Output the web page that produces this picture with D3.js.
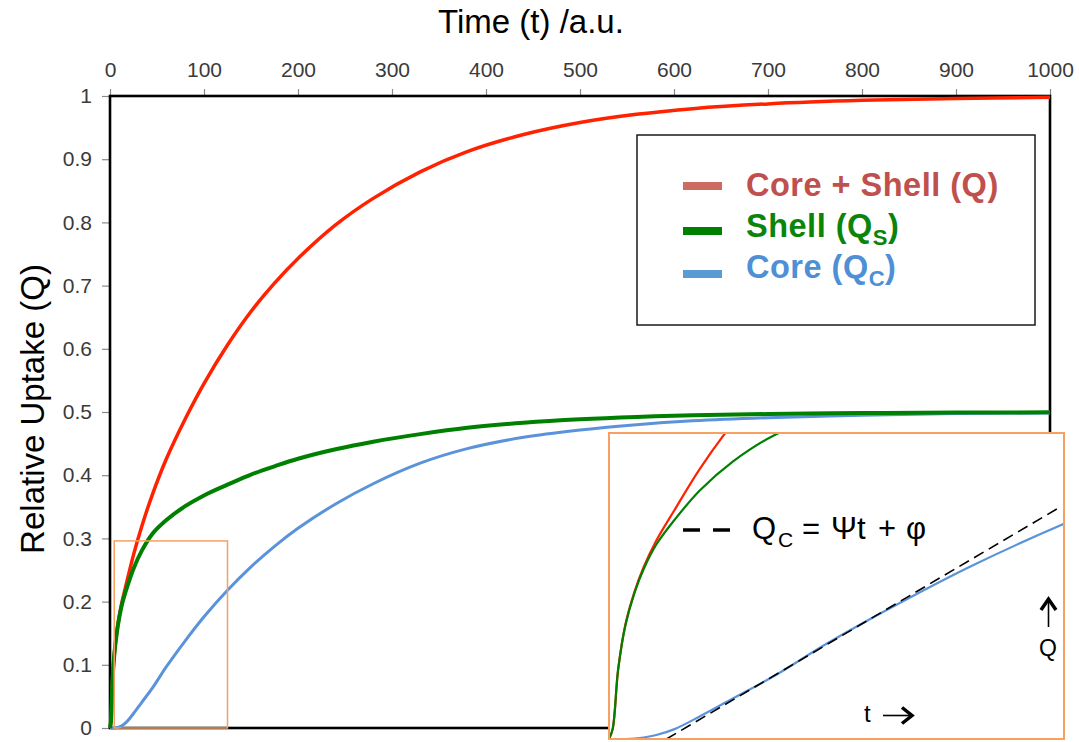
<!DOCTYPE html>
<html>
<head>
<meta charset="utf-8">
<script src="https://cdn.jsdelivr.net/npm/d3@7"></script>
<style>
  body { margin: 0; background: #fff; }
  svg { display: block; }
  text { font-family: "Liberation Sans", Arial, Helvetica, sans-serif; }
</style>
</head>
<body>
<svg id="chart" width="1079" height="742"></svg>
<script>
// ---- data -------------------------------------------------------------
const timePoints  = [0, 1, 2.5, 4.5, 7, 9.5, 13, 18, 25, 34, 45, 60, 80, 100, 125, 150, 175, 200, 240, 280, 330, 380, 440, 500, 560, 620, 700, 800, 900, 1000];
const totalUptake = [0, 0.01, 0.07, 0.116, 0.149, 0.174, 0.201, 0.232, 0.274, 0.32, 0.369, 0.426, 0.489, 0.545, 0.606, 0.659, 0.704, 0.743, 0.796, 0.838, 0.88, 0.912, 0.939, 0.958, 0.971, 0.98, 0.9875, 0.9931, 0.9962, 0.9979];
const shellUptake = [0, 0.01, 0.07, 0.115, 0.148, 0.172, 0.197, 0.222, 0.252, 0.281, 0.307, 0.329, 0.351, 0.368, 0.385, 0.401, 0.414, 0.426, 0.441, 0.453, 0.465, 0.475, 0.483, 0.4885, 0.4922, 0.4947, 0.4968, 0.4983, 0.4991, 0.4995];
const coreUptake  = [0, 0, 0, 0, 0.0005, 0.0015, 0.004, 0.01, 0.023, 0.041, 0.063, 0.097, 0.138, 0.176, 0.218, 0.255, 0.2875, 0.316, 0.3545, 0.3865, 0.419, 0.442, 0.46, 0.4715, 0.48, 0.486, 0.491, 0.495, 0.4975, 0.4985];

const xTickValues = [0, 100, 200, 300, 400, 500, 600, 700, 800, 900, 1000];
const xTickLabels = ["0", "100", "200", "300", "400", "500", "600", "700", "800", "900", "1000"];
const yTickValues = [0, 0.1, 0.2, 0.3, 0.4, 0.5, 0.6, 0.7, 0.8, 0.9, 1];
const yTickLabels = ["0", "0.1", "0.2", "0.3", "0.4", "0.5", "0.6", "0.7", "0.8", "0.9", "1"];

// magnified early-time window (marked on the main plot, enlarged in the inset)
const markerTime   = [4.5, 125];
const markerUptake = [0, 0.296];
const zoomTime     = [0, 125];
const zoomUptake   = [0, 0.31];

// linear fit to the core uptake: Q_C = Ψt + φ
const tangentTime   = [15.8, 124.4];
const tangentUptake = [0, 0.236];

const seriesNames  = ["total", "core", "shell"];
const seriesValues = { total: totalUptake, core: coreUptake, shell: shellUptake };

// ---- styles -----------------------------------------------------------
const lineColor = { total: "#ff2200", core: "#5b93da", shell: "#008000" };
const lineWidth = { total: 3.5, core: 3, shell: 4 };
const orange = "#f7a062";

const svg = d3.select("#chart");

// ---- scales -----------------------------------------------------------
const plot = { left: 110, right: 1050, top: 96, bottom: 728 };
const x = d3.scaleLinear().domain([0, 1000]).range([plot.left, plot.right]);
const y = d3.scaleLinear().domain([0, 1]).range([plot.bottom, plot.top]);

const inset = { left: 609, right: 1064, top: 433, bottom: 739 };
const ix = d3.scaleLinear().domain(zoomTime).range([inset.left, inset.right]);
const iy = d3.scaleLinear().domain(zoomUptake).range([inset.bottom, inset.top]);

const rows = name => timePoints.map((t, i) => ({ t, q: seriesValues[name][i] }));
const smooth = d3.curveCatmullRom.alpha(0.5);

// ---- axes -------------------------------------------------------------
const xAxis = d3.axisTop(x)
  .tickValues(xTickValues)
  .tickFormat((d, i) => xTickLabels[i])
  .tickSize(7).tickSizeOuter(0).tickPadding(12);
const yAxis = d3.axisLeft(y)
  .tickValues(yTickValues)
  .tickFormat((d, i) => yTickLabels[i])
  .tickSize(8).tickSizeOuter(0).tickPadding(10);

const gx = svg.append("g").attr("transform", `translate(0,${plot.top})`).call(xAxis);
const gy = svg.append("g").attr("transform", `translate(${plot.left},0)`).call(yAxis);
[gx, gy].forEach(g => {
  g.select(".domain").remove();
  g.selectAll(".tick line").attr("stroke", "#8a8a8a").attr("stroke-width", 1.2);
  g.selectAll(".tick text").attr("fill", "#3a3a3a").attr("font-size", 21)
    .style("font-family", '"Liberation Sans", Arial, sans-serif');
});

// plot frame
svg.append("rect")
  .attr("x", plot.left).attr("y", plot.top)
  .attr("width", plot.right - plot.left).attr("height", plot.bottom - plot.top)
  .attr("fill", "none").attr("stroke", "#000").attr("stroke-width", 2.6);

// axis titles
svg.append("text")
  .attr("x", 531).attr("y", 33)
  .attr("text-anchor", "middle").attr("font-size", 33).attr("fill", "#000")
  .text("Time (t) /a.u.");
svg.append("text")
  .attr("transform", "translate(44,409) rotate(-90)")
  .attr("text-anchor", "middle").attr("font-size", 33).attr("fill", "#000")
  .text("Relative Uptake (Q)");

// ---- curves -----------------------------------------------------------
const mainLine = d3.line().x(d => x(d.t)).y(d => y(d.q)).curve(smooth);
svg.append("g").selectAll("path")
  .data(seriesNames)
  .join("path")
  .attr("d", n => mainLine(rows(n)))
  .attr("fill", "none")
  .attr("stroke", n => lineColor[n])
  .attr("stroke-width", n => lineWidth[n])
  .attr("stroke-linejoin", "round");

// marker of the magnified window
svg.append("rect")
  .attr("x", x(markerTime[0])).attr("y", y(markerUptake[1]))
  .attr("width", x(markerTime[1]) - x(markerTime[0]))
  .attr("height", y(markerUptake[0]) - y(markerUptake[1]))
  .attr("fill", "none").attr("stroke", orange).attr("stroke-width", 1.5);

// ---- legend -----------------------------------------------------------
const legend = svg.append("g");
legend.append("rect")
  .attr("x", 637).attr("y", 135).attr("width", 398).attr("height", 190)
  .attr("fill", "#fff").attr("stroke", "#1a1a1a").attr("stroke-width", 1.5);

const legendItems = [
  { swatch: "#cf6a63", text: "#c0504d", main: "Core + Shell (Q)", sub: "", tail: "", sy: 186, ty: 196 },
  { swatch: "#008000", text: "#0a850a", main: "Shell (Q", sub: "S", tail: ")", sy: 231, ty: 237 },
  { swatch: "#5b9bd5", text: "#4f8fd6", main: "Core (Q", sub: "C", tail: ")", sy: 274, ty: 278 }
];
legendItems.forEach(it => {
  legend.append("line")
    .attr("x1", 683).attr("x2", 722).attr("y1", it.sy).attr("y2", it.sy)
    .attr("stroke", it.swatch).attr("stroke-width", 8);
  const t = legend.append("text")
    .attr("x", 746).attr("y", it.ty)
    .attr("font-size", 32.5).attr("font-weight", "bold")
    .attr("letter-spacing", 0.5).attr("fill", it.text);
  t.append("tspan").text(it.main);
  if (it.sub) {
    t.append("tspan").attr("font-size", 22).attr("dy", 8).text(it.sub);
    t.append("tspan").attr("dy", -8).text(it.tail);
  }
});

// ---- inset: enlarged early-time region --------------------------------
const insetG = svg.append("g");
insetG.append("rect")
  .attr("x", inset.left).attr("y", inset.top)
  .attr("width", inset.right - inset.left).attr("height", inset.bottom - inset.top)
  .attr("fill", "#fff");

svg.append("clipPath").attr("id", "inset-clip")
  .append("rect")
  .attr("x", inset.left).attr("y", inset.top)
  .attr("width", inset.right - inset.left).attr("height", inset.bottom - inset.top);

const insetLine = d3.line().x(d => ix(d.t)).y(d => iy(d.q)).curve(smooth);
const insetCurves = insetG.append("g").attr("clip-path", "url(#inset-clip)");
insetCurves.selectAll("path.curve")
  .data(seriesNames)
  .join("path")
  .attr("class", "curve")
  .attr("d", n => insetLine(rows(n)))
  .attr("fill", "none")
  .attr("stroke", n => lineColor[n])
  .attr("stroke-width", 2.2);

insetCurves.append("path")
  .datum(tangentTime.map((t, i) => ({ t, q: tangentUptake[i] })))
  .attr("d", d3.line().x(d => ix(d.t)).y(d => iy(d.q)))
  .attr("fill", "none").attr("stroke", "#000")
  .attr("stroke-width", 1.6).attr("stroke-dasharray", "11,6");

insetG.append("rect")
  .attr("x", inset.left).attr("y", inset.top)
  .attr("width", inset.right - inset.left).attr("height", inset.bottom - inset.top)
  .attr("fill", "none").attr("stroke", orange).attr("stroke-width", 2);

// fit legend
insetG.append("line")
  .attr("x1", 683).attr("x2", 731).attr("y1", 530).attr("y2", 530)
  .attr("stroke", "#000").attr("stroke-width", 3.5).attr("stroke-dasharray", "17,13");
const eq = insetG.append("text")
  .attr("y", 539).attr("font-size", 31).attr("fill", "#000");
eq.append("tspan").attr("x", 752).text("Q");
eq.append("tspan").attr("x", 778).attr("font-size", 21).attr("dy", 8).text("C");
eq.append("tspan").attr("x", 802).attr("dy", -8).text("=");
eq.append("tspan").attr("x", 831).text("Ψt");
eq.append("tspan").attr("x", 878).text("+");
eq.append("tspan").attr("x", 906).text("φ");

// axis direction hints
insetG.append("text").attr("x", 864).attr("y", 722)
  .attr("font-size", 24).attr("fill", "#000").text("t");
insetG.append("line").attr("x1", 883).attr("x2", 911).attr("y1", 715.5).attr("y2", 715.5)
  .attr("stroke", "#000").attr("stroke-width", 1.6);
insetG.append("path").attr("d", "M902,707.5 L912,715.5 L902,723.5")
  .attr("fill", "none").attr("stroke", "#000").attr("stroke-width", 3.5)
  .attr("stroke-linejoin", "miter");

insetG.append("line").attr("x1", 1048.5).attr("x2", 1048.5).attr("y1", 627).attr("y2", 600)
  .attr("stroke", "#000").attr("stroke-width", 1.6);
insetG.append("path").attr("d", "M1041,610 L1048.5,599 L1056,610")
  .attr("fill", "none").attr("stroke", "#000").attr("stroke-width", 3.5)
  .attr("stroke-linejoin", "miter");
insetG.append("text").attr("x", 1048).attr("y", 656)
  .attr("text-anchor", "middle").attr("font-size", 23).attr("fill", "#000").text("Q");
</script>
</body>
</html>
